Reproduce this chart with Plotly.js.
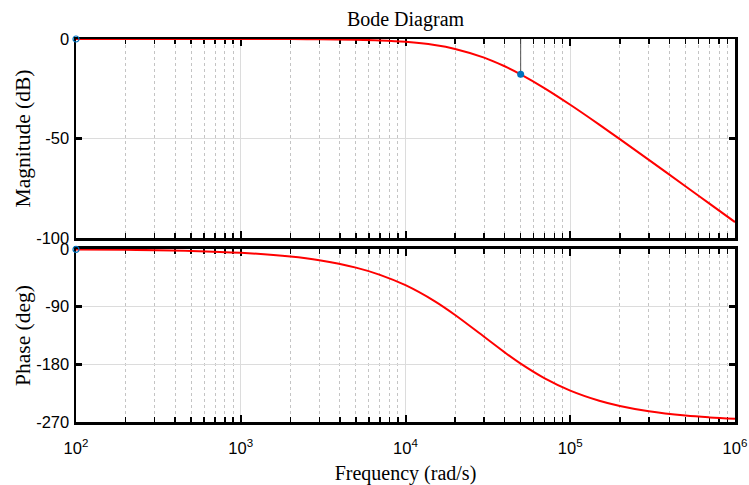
<!DOCTYPE html>
<html>
<head>
<meta charset="utf-8">
<script src="https://cdn.plot.ly/plotly-3.0.1.min.js"></script>
<style>html,body{margin:0;padding:0;background:#fff;}#chart{width:749px;height:485px;}</style>
</head>
<body>
<div id="chart"></div>
<script>
// Frequencies (rad/s) and values
const freq = [100, 200, 500, 1000, 2000, 3000, 5000, 7000, 10000, 15000, 20000, 30000, 40000, 50000, 70000, 100000, 150000, 200000, 300000, 500000, 700000, 1000000];
const magDb = [-0.0002, -0.0006, -0.004, -0.015, -0.06, -0.14, -0.37, -0.72, -1.44, -3.03, -4.98, -9.34, -13.71, -17.77, -24.80, -33.06, -43.04, -50.33, -60.74, -73.97, -82.72, -92.0];
const phaseDeg = [-0.59, -1.17, -2.93, -5.86, -11.71, -17.54, -29.05, -40.31, -56.53, -81.33, -102.97, -137.04, -161.33, -178.9, -201.87, -221.01, -236.85, -245.0, -253.26, -259.94, -262.81, -264.97];

const xMajorTicks = [100, 1000, 10000, 100000, 1000000];
const xTickText = ['10<sup>2</sup>', '10<sup>3</sup>', '10<sup>4</sup>', '10<sup>5</sup>', '10<sup>6</sup>'];
const magTicks = [0, -50, -100];
const magTickText = ['0', '-50', '-100'];
const phaseTicks = [0, -90, -180, -270];
const phaseTickText = ['0', '-90', '-180', '-270'];
const tipFreq = 50000;

const minorVals = [];
xMajorTicks.slice(0, -1).forEach(d => { for (let k = 2; k <= 9; k++) minorVals.push(d * k); });
const tipIdx = freq.indexOf(tipFreq);

const red = '#FF0000', blue = '#0072BD';
const serif = 'Liberation Serif, Times New Roman, serif';
const sans = 'Liberation Sans, Arial, sans-serif';

const traces = [
  {x: freq, y: magDb, xaxis: 'x', yaxis: 'y', mode: 'lines', line: {color: red, width: 2, shape: 'spline'}, hoverinfo: 'skip'},
  {x: freq, y: phaseDeg, xaxis: 'x2', yaxis: 'y2', mode: 'lines', line: {color: red, width: 2, shape: 'spline'}, hoverinfo: 'skip'},
  {x: [tipFreq, tipFreq], y: [magTicks[0], magDb[tipIdx]], xaxis: 'x', yaxis: 'y', mode: 'lines', line: {color: '#555', width: 1}, hoverinfo: 'skip'},
  {x: [tipFreq], y: [magDb[tipIdx]], xaxis: 'x', yaxis: 'y', mode: 'markers', marker: {color: blue, size: 7}, cliponaxis: false},
  {x: [freq[0]], y: [magDb[0]], xaxis: 'x', yaxis: 'y', mode: 'markers', marker: {color: blue, size: 6, symbol: 'circle-open', line: {width: 1.2}}, cliponaxis: false},
  {x: [freq[0]], y: [phaseDeg[0]], xaxis: 'x2', yaxis: 'y2', mode: 'markers', marker: {color: blue, size: 6, symbol: 'circle-open', line: {width: 1.2}}, cliponaxis: false}
];

function xAxis(anchor, labels) {
  return {
    type: 'log', range: [2, 6], anchor: anchor, domain: [0, 1],
    tickmode: 'array', tickvals: xMajorTicks, ticktext: xTickText, showticklabels: labels,
    ticks: 'inside', ticklen: 7, tickwidth: 2, tickcolor: '#000',
    showline: true, linecolor: '#000', linewidth: 2.5, mirror: 'ticks',
    showgrid: true, gridcolor: '#dcdcdc', gridwidth: 1, zeroline: false,
    tickfont: {family: sans, size: 16.5, color: '#000'},
    ticklabelstandoff: 10,
    minor: {tickmode: 'array', tickvals: minorVals, ticks: 'inside', ticklen: 5, tickwidth: 1.5, tickcolor: '#000',
            showgrid: true, gridcolor: '#c4c4c4', griddash: 'dot', gridwidth: 1},
    layer: 'below traces'
  };
}
function yAxis(anchor, dom, range, tv, tt, title) {
  return {
    anchor: anchor, domain: dom, range: range,
    tickmode: 'array', tickvals: tv, ticktext: tt,
    ticks: 'inside', ticklen: 6, tickwidth: 3, tickcolor: '#000',
    showline: true, linecolor: '#000', linewidth: 2.5, mirror: 'ticks',
    showgrid: true, gridcolor: '#dcdcdc', gridwidth: 1, zeroline: false,
    tickfont: {family: sans, size: 16.5, color: '#000'},
    ticklabelstandoff: 1,
    title: {text: title, font: {family: serif, size: 21.5, color: '#000'}, standoff: 0},
    layer: 'below traces'
  };
}

const xa2 = xAxis('y2', true);
xa2.title = {text: 'Frequency (rad/s)', font: {family: serif, size: 20, color: '#000'}, standoff: 14};

const layout = {
  width: 749, height: 485,
  margin: {l: 76, r: 14, t: 39, b: 63},
  paper_bgcolor: '#fff', plot_bgcolor: '#fff',
  showlegend: false,
  title: {text: 'Bode Diagram', font: {family: serif, size: 20, color: '#000'}, xref: 'paper', x: 0.5, xanchor: 'center', yref: 'container', y: 0.96, yanchor: 'middle'},
  xaxis: xAxis('y', false),
  xaxis2: xa2,
  yaxis: yAxis('x', [0.4804, 1], [-100, 0], magTicks, magTickText, 'Magnitude (dB)'),
  yaxis2: yAxis('x2', [0, 0.4517], [-270, 0], phaseTicks, phaseTickText, 'Phase (deg)')
};

Plotly.newPlot('chart', traces, layout, {staticPlot: true, displayModeBar: false});
</script>
</body>
</html>
